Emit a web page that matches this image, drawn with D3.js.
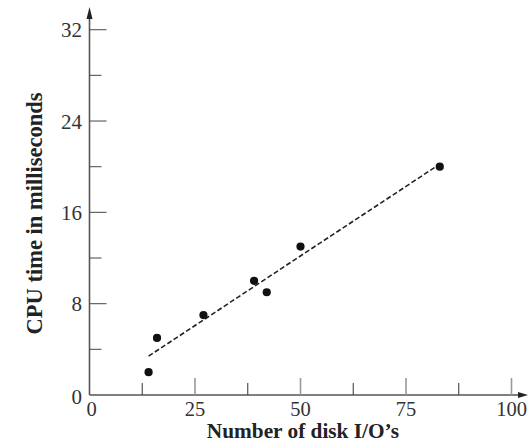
<!DOCTYPE html>
<html>
<head>
<meta charset="utf-8">
<script src="https://cdn.jsdelivr.net/npm/d3@7"></script>
<style>
html,body{margin:0;padding:0;background:#fff;}
svg{display:block;}
</style>
</head>
<body>
<svg id="chart" width="529" height="443"></svg>
<script>
const diskIOs = [14, 16, 27, 39, 42, 50, 83];
const cpuTime = [2, 5, 7, 10, 9, 13, 20];
const xMajorTicks = [0, 25, 50, 75, 100];
const xMinorTicks = [12.5, 37.5, 62.5, 87.5];
const yMajorTicks = [0, 8, 16, 24, 32];
const yMinorTicks = [4, 12, 20, 28];
const fitIntercept = -0.0083;
const fitSlope = 0.2438;
const fitRange = [14, 83];
const xTitle = "Number of disk I/O\u2019s";
const yTitle = "CPU time in milliseconds";

const svg = d3.select("#chart");
const x = d3.scaleLinear().domain([0, 100]).range([89.5, 511.5]);
const y = d3.scaleLinear().domain([0, 32]).range([395, 29.7]);
const axisColor = "#555";
const font = "'Liberation Serif','Times New Roman',serif";

// axes lines
svg.append("line").attr("x1", x(0)).attr("x2", 524).attr("y1", y(0)).attr("y2", y(0))
  .attr("stroke", axisColor).attr("stroke-width", 1.6);
svg.append("line").attr("x1", x(0)).attr("x2", x(0)).attr("y1", y(0)).attr("y2", 14)
  .attr("stroke", axisColor).attr("stroke-width", 1.6);
// arrowheads
svg.append("path").attr("d", `M528,${y(0)} L518,${y(0)-3} L518,${y(0)+3} Z`).attr("fill", "#222");
svg.append("path").attr("d", `M${x(0)},7 L${x(0)-3},19 L${x(0)+3},19 Z`).attr("fill", "#222");

// x ticks (pointing up)
const g = svg.append("g");
g.selectAll(".xmaj").data(xMajorTicks.filter(d => d > 0)).join("line")
  .attr("x1", d => x(d)).attr("x2", d => x(d)).attr("y1", y(0)).attr("y2", y(0) - 17)
  .attr("stroke", "#999").attr("stroke-width", 1.6);
g.selectAll(".xmin").data(xMinorTicks).join("line")
  .attr("x1", d => x(d)).attr("x2", d => x(d)).attr("y1", y(0)).attr("y2", y(0) - 12)
  .attr("stroke", "#444").attr("stroke-width", 1.1);
// y ticks (pointing right)
g.selectAll(".ymaj").data(yMajorTicks.filter(d => d > 0)).join("line")
  .attr("x1", x(0)).attr("x2", x(0) + 17).attr("y1", d => y(d)).attr("y2", d => y(d))
  .attr("stroke", "#555").attr("stroke-width", 1.1);
g.selectAll(".ymin").data(yMinorTicks).join("line")
  .attr("x1", x(0)).attr("x2", x(0) + 12).attr("y1", d => y(d)).attr("y2", d => y(d))
  .attr("stroke", "#555").attr("stroke-width", 1.1);

// tick labels
svg.selectAll(".xl").data(xMajorTicks).join("text")
  .attr("x", d => x(d) + (d === 0 ? 2 : 0)).attr("y", 415.5)
  .attr("text-anchor", "middle").attr("font-family", font).attr("font-size", 20.5)
  .attr("fill", "#333").text(d => d);
svg.selectAll(".yl").data(yMajorTicks).join("text")
  .attr("x", 82).attr("y", d => y(d) + (d === 0 ? 9 : 7.5))
  .attr("text-anchor", "end").attr("font-family", font).attr("font-size", 21)
  .attr("fill", "#333").text(d => d);

// titles
svg.append("text").attr("x", 303).attr("y", 438).attr("text-anchor", "middle")
  .attr("font-family", font).attr("font-weight", "bold").attr("font-size", 21.3)
  .attr("fill", "#222").text(xTitle);
svg.append("text").attr("transform", "translate(42,213.5) rotate(-90)").attr("text-anchor", "middle")
  .attr("font-family", font).attr("font-weight", "bold").attr("font-size", 22.5)
  .attr("fill", "#222").text(yTitle);

// fit line
const line = d3.line().x(d => x(d)).y(d => y(fitIntercept + fitSlope * d));
svg.append("path").datum(fitRange).attr("d", line)
  .attr("fill", "none").attr("stroke", "#222").attr("stroke-width", 1.6)
  .attr("stroke-dasharray", "5,2.5");

// points
svg.selectAll(".pt").data(diskIOs.map((d, i) => [d, cpuTime[i]])).join("circle")
  .attr("cx", d => x(d[0])).attr("cy", d => y(d[1])).attr("r", 4.1).attr("fill", "#111");
</script>
</body>
</html>
